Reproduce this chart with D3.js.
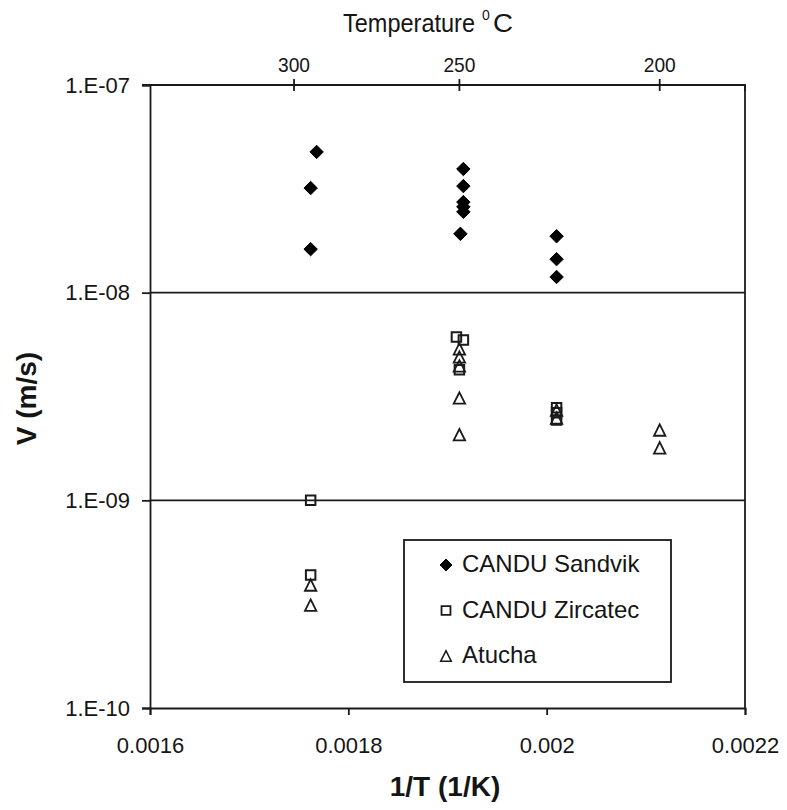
<!DOCTYPE html>
<html>
<head>
<meta charset="utf-8">
<script src="https://cdn.jsdelivr.net/npm/d3@7"></script>
<style>
  html, body { margin: 0; padding: 0; background: #fff; }
  svg { display: block; }
  text { font-family: "Liberation Sans", Arial, sans-serif; fill: #151515; }
</style>
</head>
<body>
<svg id="chart" width="787" height="810"></svg>
<script>
// Crack velocity vs inverse temperature, three tube materials
const sandvikX = [0.001768, 0.001762, 0.001762, 0.001916, 0.001916, 0.001916, 0.001916, 0.001916, 0.001913, 0.00201, 0.00201, 0.00201];
const sandvikV = [4.76e-8, 3.19e-8, 1.62e-8, 3.94e-8, 3.26e-8, 2.73e-8, 2.59e-8, 2.45e-8, 1.92e-8, 1.87e-8, 1.45e-8, 1.19e-8];

const zircatecX = [0.001909, 0.001916, 0.001912, 0.00201, 0.00201, 0.00201, 0.001762, 0.001762];
const zircatecV = [6.12e-9, 5.92e-9, 4.25e-9, 2.79e-9, 2.64e-9, 2.44e-9, 1.0e-9, 4.37e-10];

const atuchaX = [0.001912, 0.001912, 0.001912, 0.001912, 0.001912, 0.00201, 0.00201, 0.002114, 0.002114, 0.001762, 0.001762];
const atuchaV = [5.36e-9, 4.90e-9, 4.44e-9, 3.11e-9, 2.07e-9, 2.72e-9, 2.49e-9, 2.18e-9, 1.79e-9, 3.91e-10, 3.13e-10];

const xTicks = [0.0016, 0.0018, 0.002, 0.0022];
const xTickLabels = ["0.0016", "0.0018", "0.002", "0.0022"];
const yTicks = [1e-7, 1e-8, 1e-9, 1e-10];
const yTickLabels = ["1.E-07", "1.E-08", "1.E-09", "1.E-10"];
const tempTicks = [300, 250, 200];   // degrees Celsius on the top axis

const seriesNames = ["CANDU Sandvik", "CANDU Zircatec", "Atucha"];

const svg = d3.select("#chart");
const plotLeft = 150, plotRight = 745, plotTop = 85, plotBottom = 708;
const ink = "#1a1a1a";

const x = d3.scaleLinear().domain([0.0016, 0.0022]).range([plotLeft, plotRight]);
const y = d3.scaleLog().domain([1e-10, 1e-7]).range([plotBottom, plotTop]);

// horizontal grid lines at the inner decades
svg.append("g").selectAll("line").data([1e-8, 1e-9]).join("line")
  .attr("x1", plotLeft).attr("x2", plotRight)
  .attr("y1", d => y(d)).attr("y2", d => y(d))
  .attr("stroke", ink).attr("stroke-width", 1.8);

// right border
svg.append("line").attr("x1", plotRight).attr("x2", plotRight).attr("y1", plotTop).attr("y2", plotBottom)
  .attr("stroke", ink).attr("stroke-width", 1.8);

// bottom axis
const xAxis = svg.append("g").attr("transform", `translate(0,${plotBottom})`)
  .call(d3.axisBottom(x).tickValues(xTicks).tickFormat((d, i) => xTickLabels[i]).tickSize(7).tickPadding(22));
// left axis
const yAxis = svg.append("g").attr("transform", `translate(${plotLeft},0)`)
  .call(d3.axisLeft(y).tickValues(yTicks).tickFormat((d, i) => yTickLabels[i]).tickSize(8).tickPadding(12));
// top axis: temperature converted to inverse kelvin
const topAxis = svg.append("g").attr("transform", `translate(0,${plotTop})`)
  .call(d3.axisTop(x).tickValues(tempTicks.map(t => 1 / (t + 273.15)))
    .tickFormat((d, i) => tempTicks[i]).tickSize(6).tickPadding(7));
topAxis.selectAll(".tick line").attr("y1", 6).attr("y2", -6);
topAxis.select(".domain").attr("d", `M${plotLeft - 8},0H${plotRight}V6`);

[xAxis, yAxis, topAxis].forEach(g => {
  g.select(".domain").attr("stroke", ink).attr("stroke-width", 1.8);
  g.selectAll(".tick line").attr("stroke", ink).attr("stroke-width", 1.8);
  g.selectAll(".tick text").attr("fill", "#151515")
    .style("font-family", "'Liberation Sans', Arial, sans-serif");
});
xAxis.selectAll(".tick text").style("font-size", "22px");
yAxis.selectAll(".tick text").style("font-size", "22px");
topAxis.selectAll(".tick text").style("font-size", "21px")
  .attr("textLength", 32).attr("lengthAdjust", "spacingAndGlyphs");

// axis titles
svg.append("text").attr("x", 445).attr("y", 796).attr("text-anchor", "middle")
  .style("font-size", "28px").style("font-weight", "bold").text("1/T (1/K)");
svg.append("text").attr("transform", "translate(36,398.5) rotate(-90)").attr("text-anchor", "middle")
  .style("font-size", "28px").style("font-weight", "bold").text("V (m/s)");
const tTitle = svg.append("g");
tTitle.append("text").attr("x", 343).attr("y", 32).style("font-size", "25px")
  .attr("textLength", 132).attr("lengthAdjust", "spacingAndGlyphs").text("Temperature");
tTitle.append("text").attr("x", 482).attr("y", 20).style("font-size", "14px").text("0");
tTitle.append("text").attr("x", 493).attr("y", 32).style("font-size", "25px")
  .attr("textLength", 20).attr("lengthAdjust", "spacingAndGlyphs").text("C");

// marker shapes
const openTriangle = {
  draw(ctx, size) {
    const h = Math.sqrt(size);
    ctx.moveTo(0, -h / 2);
    ctx.lineTo(h / 2, h / 2);
    ctx.lineTo(-h / 2, h / 2);
    ctx.closePath();
  }
};
const diamond = d3.symbol().type(d3.symbolDiamond2).size(115);
const square = d3.symbol().type(d3.symbolSquare).size(90);
const triangle = d3.symbol().type(openTriangle).size(130);

const plot = svg.append("g");
plot.selectAll(".tri").data(d3.zip(atuchaX, atuchaV)).join("path")
  .attr("class", "tri")
  .attr("transform", d => `translate(${x(d[0])},${y(d[1])})`)
  .attr("d", triangle).attr("fill", "none").attr("stroke", ink).attr("stroke-width", 1.8);
plot.selectAll(".sq").data(d3.zip(zircatecX, zircatecV)).join("path")
  .attr("class", "sq")
  .attr("transform", d => `translate(${x(d[0])},${y(d[1])})`)
  .attr("d", square).attr("fill", "none").attr("stroke", ink).attr("stroke-width", 2);
plot.selectAll(".dia").data(d3.zip(sandvikX, sandvikV)).join("path")
  .attr("class", "dia")
  .attr("transform", d => `translate(${x(d[0])},${y(d[1])})`)
  .attr("d", diamond).attr("fill", "#000").attr("stroke", "#000").attr("stroke-width", 1)
  .attr("stroke-linejoin", "round");

// legend
const lg = svg.append("g");
lg.append("rect").attr("x", 404).attr("y", 540).attr("width", 267).attr("height", 142)
  .attr("fill", "#fff").attr("stroke", ink).attr("stroke-width", 1.8);
const legendMarks = [
  { shape: d3.symbol().type(d3.symbolDiamond2).size(90), fill: "#000", stroke: "#000", w: 1 },
  { shape: d3.symbol().type(d3.symbolSquare).size(80), fill: "none", stroke: ink, w: 1.8 },
  { shape: d3.symbol().type(openTriangle).size(110), fill: "none", stroke: ink, w: 1.6 }
];
seriesNames.forEach((name, i) => {
  const base = 572 + i * 45.5;
  lg.append("path").attr("transform", `translate(446,${base - 7})`)
    .attr("d", legendMarks[i].shape).attr("fill", legendMarks[i].fill)
    .attr("stroke", legendMarks[i].stroke).attr("stroke-width", legendMarks[i].w);
  lg.append("text").attr("x", 462).attr("y", base).style("font-size", "24px").text(name);
});
</script>
</body>
</html>
